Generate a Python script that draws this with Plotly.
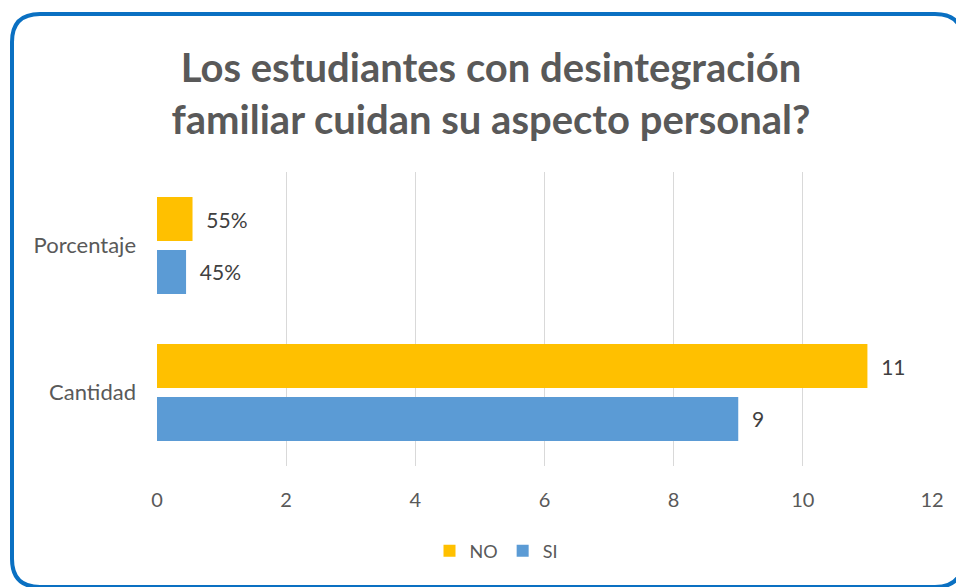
import plotly.graph_objects as go

categories = ["Porcentaje", "Cantidad"]
no_values = [0.55, 11]
si_values = [0.45, 9]
no_labels = ["55%", "11"]
si_labels = ["45%", "9"]
x_ticks = [0, 2, 4, 6, 8, 10, 12]

# page has an 8px body margin, so the figure is sized to fit inside it
W, H = 956, 579
L, R, T, B = 149, 32, 164, 121
PW, PH = W - L - R, H - T - B

def px(x):
    return (x - L) / PW

def py(y):
    return 1 - (y - T) / PH

FONT = "Lato"
TXT = "#595959"

fig = go.Figure()
fig.add_trace(go.Bar(
    y=categories, x=no_values, name="NO", orientation="h",
    marker=dict(color="#FFC000", line=dict(width=0)),
    text=no_labels, texttemplate="\u00a0\u00a0%{text}", textposition="outside",
    textfont=dict(size=21, color="#404040", family=FONT), cliponaxis=False,
))
fig.add_trace(go.Bar(
    y=categories, x=si_values, name="SI", orientation="h",
    marker=dict(color="#5B9BD5", line=dict(width=0)),
    text=si_labels, texttemplate="\u00a0\u00a0%{text}", textposition="outside",
    textfont=dict(size=21, color="#404040", family=FONT), cliponaxis=False,
))

# rounded border
x0, x1, y0, y1, r = 4, 955, 6, 579, 28
path = (
    f"M {px(x0 + r)},{py(y0)} L {px(x1 - r)},{py(y0)} "
    f"Q {px(x1)},{py(y0)} {px(x1)},{py(y0 + r)} "
    f"L {px(x1)},{py(y1 - r)} Q {px(x1)},{py(y1)} {px(x1 - r)},{py(y1)} "
    f"L {px(x0 + r)},{py(y1)} Q {px(x0)},{py(y1)} {px(x0)},{py(y1 - r)} "
    f"L {px(x0)},{py(y0 + r)} Q {px(x0)},{py(y0)} {px(x0 + r)},{py(y0)} Z"
)
fig.add_shape(type="path", path=path, xref="paper", yref="paper",
              line=dict(color="#0A70C2", width=4), layer="above")

fig.update_layout(
    width=W, height=H,
    margin=dict(l=L, r=R, t=T, b=B, autoexpand=False),
    paper_bgcolor="white", plot_bgcolor="white",
    barmode="group", bargap=0.279, bargroupgap=0.17,
    title=dict(
        text="<b>Los estudiantes con desintegración<br>familiar cuidan su aspecto personal?</b>",
        x=483 / W, xanchor="center", y=1 - 74 / H, yanchor="middle",
        font=dict(family=FONT, size=40, color=TXT), automargin=False,
    ),
    xaxis=dict(range=[0, 12], tickvals=x_ticks, showgrid=True, gridcolor="#D9D9D9",
               gridwidth=1, zeroline=False, showline=False, automargin=False,
               tickfont=dict(family=FONT, size=20, color=TXT), ticklabelstandoff=20),
    yaxis=dict(autorange="reversed", showgrid=False, zeroline=False, showline=False,
               automargin=False,
               tickfont=dict(family=FONT, size=22, color=TXT), ticklabelstandoff=20),
    legend=dict(orientation="h", x=488 / W, xref="container", xanchor="center",
                y=py(543), yanchor="middle",
                font=dict(family=FONT, size=18, color=TXT)),
    showlegend=True,
)

fig.write_html("out.html")
